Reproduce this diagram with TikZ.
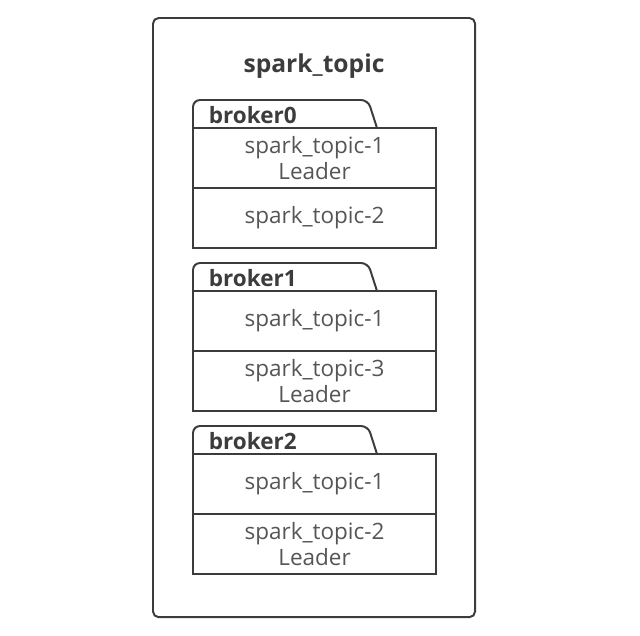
\documentclass[tikz,border=0pt]{standalone}
\usepackage{fontspec}
\setmainfont{Open Sans}
\usetikzlibrary{positioning}
\definecolor{lineGray}{RGB}{60,60,60}
\definecolor{textGray}{RGB}{85,85,85}

\begin{document}
\begin{tikzpicture}[x=0.025cm,y=-0.025cm,
  part/.style={draw=lineGray,line width=1.4pt,minimum width=6.075cm,minimum height=1.5cm,
    inner sep=0pt,outer sep=0pt,align=center,font=\fontsize{16}{18.5}\selectfont,text=textGray},
  tab/.style={draw=lineGray,line width=1.4pt,rounded corners=5pt},
  lbl/.style={font=\fontsize{16}{18}\selectfont\bfseries,text=lineGray,anchor=west}]
\useasboundingbox (0,0) rectangle (640,636);
% topic frame
\node[draw=lineGray,line width=1.4pt,rounded corners=4pt,minimum width=8.05cm,minimum height=14.975cm,
  outer sep=0pt,anchor=north west] (topic) at (153,18) {};
\node[font=\fontsize{17.5}{20}\selectfont\bfseries,text=lineGray] (title) at (314,66) {spark\_topic};
% brokers
\foreach \i/\y/\ta/\tb in {0/100/{spark\_topic-1\\Leader}/{spark\_topic-2},
  1/263/{spark\_topic-1}/{spark\_topic-3\\Leader},
  2/426/{spark\_topic-1}/{spark\_topic-2\\Leader}}{
  \draw[tab] (193,\y+28) -- (193,\y) -- (368,\y) -- (377,\y+28);
  \node[lbl] (b\i) at (204,\y+15) {broker\i};
  \node[part,anchor=north west] (b\i a) at (193,\y+28) {\ta};
  \node[part,below=0pt of b\i a] (b\i b) {\tb};
}
\end{tikzpicture}
\end{document}
